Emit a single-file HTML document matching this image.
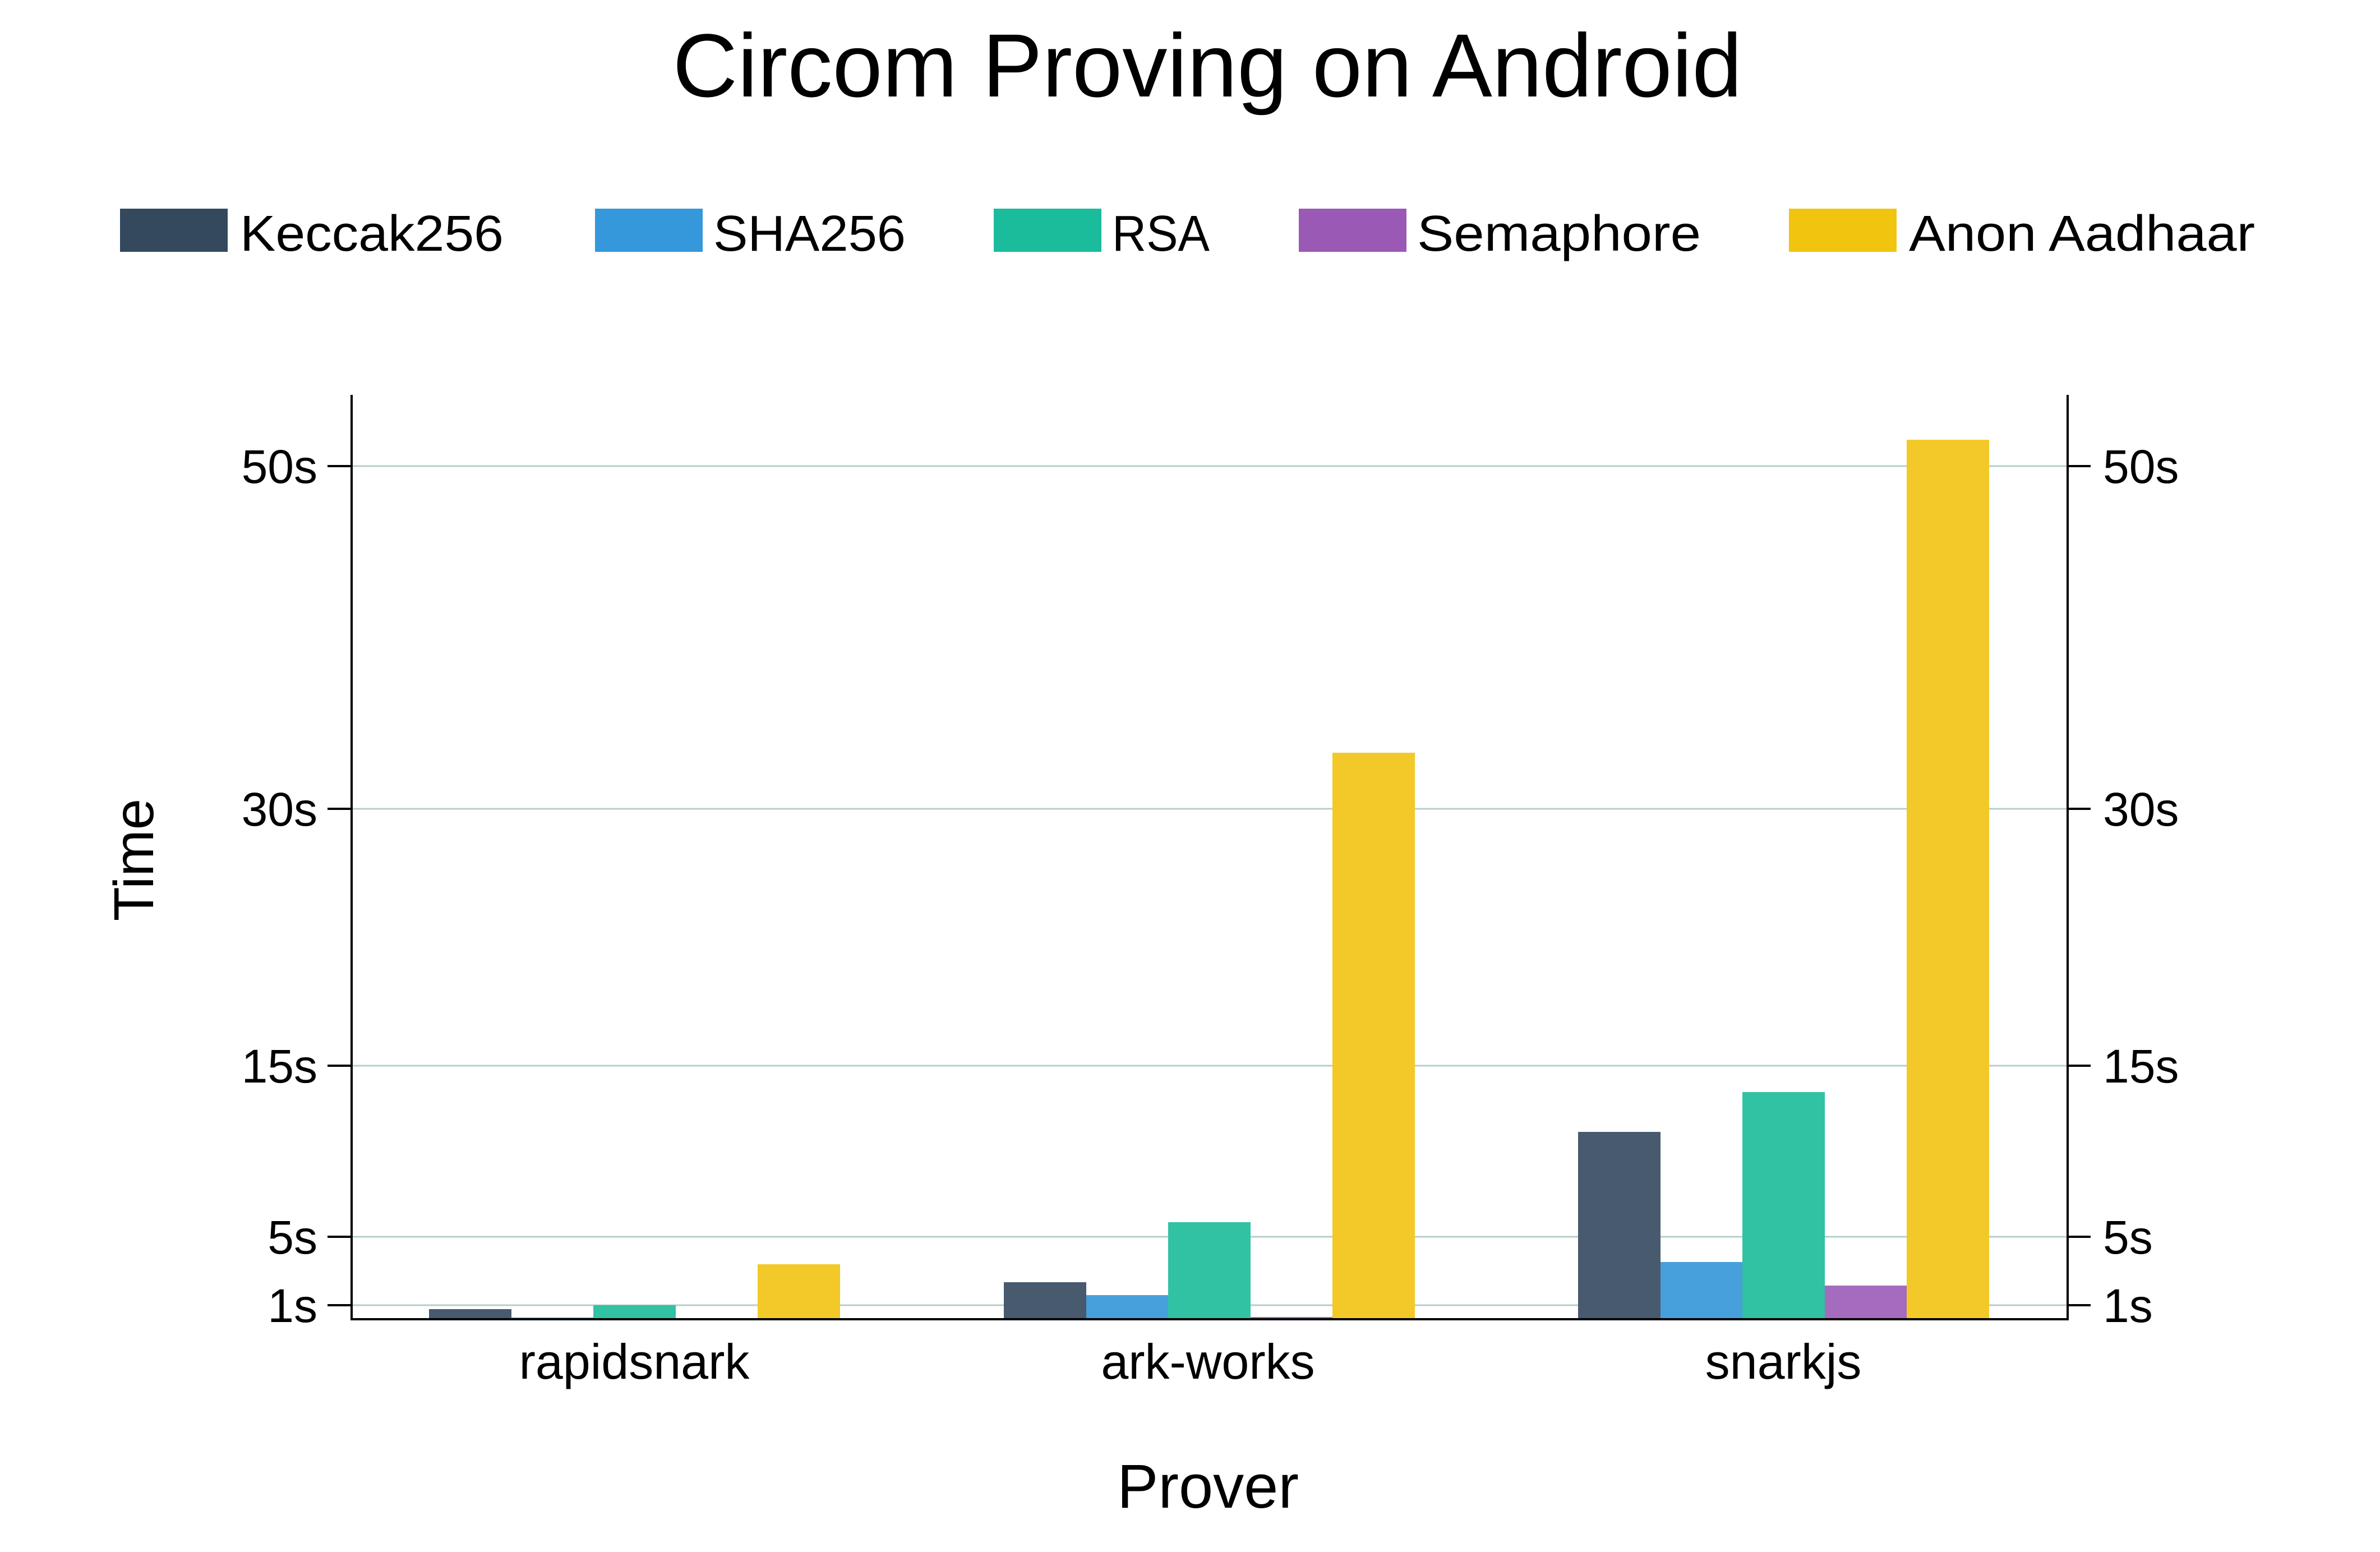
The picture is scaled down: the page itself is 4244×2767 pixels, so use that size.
<!DOCTYPE html>
<html><head><meta charset="utf-8"><style>html,body{margin:0;padding:0;background:#fff}svg{display:block}</style></head>
<body>
<svg width="4244" height="2767" viewBox="0 0 4244 2767" xmlns="http://www.w3.org/2000/svg" font-family="'Liberation Sans', 'DejaVu Sans', sans-serif">
<rect width="4244" height="2767" fill="#fff"/>
<text x="2153" y="172" font-size="160" text-anchor="middle" textLength="1907" lengthAdjust="spacingAndGlyphs">Circom Proving on Android</text>
<!-- legend -->
<rect x="214" y="372" width="192" height="77" fill="#34495e"/>
<text x="428" y="447" font-size="90" textLength="470" lengthAdjust="spacingAndGlyphs">Keccak256</text>
<rect x="1061" y="372" width="192" height="77" fill="#3498db"/>
<text x="1272" y="447" font-size="90" textLength="343" lengthAdjust="spacingAndGlyphs">SHA256</text>
<rect x="1772" y="372" width="192" height="77" fill="#1abc9c"/>
<text x="1983" y="447" font-size="90" textLength="174" lengthAdjust="spacingAndGlyphs">RSA</text>
<rect x="2316" y="372" width="192" height="77" fill="#9b59b6"/>
<text x="2527" y="447" font-size="90" textLength="506" lengthAdjust="spacingAndGlyphs">Semaphore</text>
<rect x="3190" y="372" width="192" height="77" fill="#f1c40f"/>
<text x="3404" y="447" font-size="90" textLength="617" lengthAdjust="spacingAndGlyphs">Anon Aadhaar</text>
<!-- gridlines -->
<g stroke="#b4d0cc" stroke-width="3">
<line x1="627" x2="3687" y1="831" y2="831"/>
<line x1="627" x2="3687" y1="1442" y2="1442"/>
<line x1="627" x2="3687" y1="1900" y2="1900"/>
<line x1="627" x2="3687" y1="2205" y2="2205"/>
<line x1="627" x2="3687" y1="2327" y2="2327"/>
</g>
<!-- bars -->
<g>
<rect x="765" y="2334" width="147" height="18" fill="#485a6e"/>
<rect x="912" y="2349" width="146" height="3" fill="#47a0db"/>
<rect x="1058" y="2327" width="147" height="25" fill="#31c2a4"/>
<rect x="1351" y="2254" width="147" height="98" fill="#f2c928"/>

<rect x="1790" y="2286" width="147" height="66" fill="#485a6e"/>
<rect x="1937" y="2309" width="146" height="43" fill="#47a0db"/>
<rect x="2083" y="2179" width="147" height="173" fill="#31c2a4"/>
<rect x="2230" y="2348" width="146" height="4" fill="#a56bbf"/>
<rect x="2376" y="1342" width="147" height="1010" fill="#f2c928"/>

<rect x="2814" y="2018" width="147" height="334" fill="#485a6e"/>
<rect x="2961" y="2250" width="146" height="102" fill="#47a0db"/>
<rect x="3107" y="1947" width="147" height="405" fill="#31c2a4"/>
<rect x="3254" y="2292" width="146" height="60" fill="#a56bbf"/>
<rect x="3400" y="784" width="147" height="1568" fill="#f2c928"/>
</g>
<!-- axes -->
<g stroke="#000" stroke-width="4" fill="none">
<line x1="627" y1="704" x2="627" y2="2354"/>
<line x1="3687" y1="704" x2="3687" y2="2354"/>
<line x1="625" y1="2352" x2="3689" y2="2352"/>
<line x1="584" x2="627" y1="831" y2="831"/>
<line x1="584" x2="627" y1="1442" y2="1442"/>
<line x1="584" x2="627" y1="1900" y2="1900"/>
<line x1="584" x2="627" y1="2205" y2="2205"/>
<line x1="584" x2="627" y1="2327" y2="2327"/>
<line x1="3687" x2="3728" y1="831" y2="831"/>
<line x1="3687" x2="3728" y1="1442" y2="1442"/>
<line x1="3687" x2="3728" y1="1900" y2="1900"/>
<line x1="3687" x2="3728" y1="2205" y2="2205"/>
<line x1="3687" x2="3728" y1="2327" y2="2327"/>
</g>
<g font-size="84" text-anchor="end">
<text x="566" y="861">50s</text>
<text x="566" y="1472">30s</text>
<text x="566" y="1930">15s</text>
<text x="566" y="2235">5s</text>
<text x="566" y="2357">1s</text>
</g>
<g font-size="84" text-anchor="start">
<text x="3750" y="861">50s</text>
<text x="3750" y="1472">30s</text>
<text x="3750" y="1930">15s</text>
<text x="3750" y="2235">5s</text>
<text x="3750" y="2357">1s</text>
</g>
<g font-size="88" text-anchor="middle">
<text x="1131" y="2458">rapidsnark</text>
<text x="2154" y="2458">ark-works</text>
<text x="3180" y="2458">snarkjs</text>
</g>
<text x="2154" y="2688" font-size="110" text-anchor="middle">Prover</text>
<text transform="translate(273,1533) rotate(-90)" font-size="100" text-anchor="middle">Time</text>
</svg>
</body></html>
